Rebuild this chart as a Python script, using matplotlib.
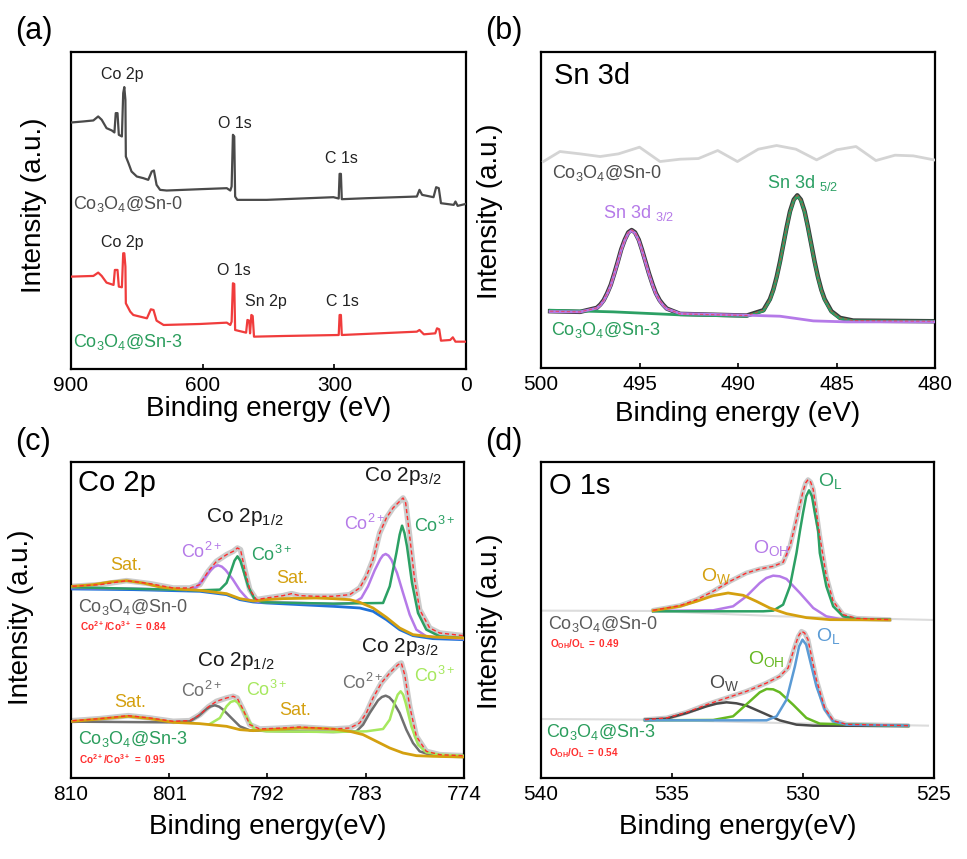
import matplotlib
matplotlib.use("Agg")
import matplotlib.pyplot as plt

plt.rcParams['font.family'] = ['Liberation Sans', 'DejaVu Sans']
plt.rcParams['mathtext.fontset'] = 'custom'
plt.rcParams['mathtext.rm'] = 'Liberation Sans'
plt.rcParams['mathtext.it'] = 'Liberation Sans:italic'
plt.rcParams['mathtext.bf'] = 'Liberation Sans:bold'

# ---------------- (a) survey spectra ----------------
a_sn0_e = [898.5, 872, 849, 838, 830, 819, 807, 801, 798, 794, 791, 784, 781, 778.5, 776, 775, 769, 762, 750,
           735, 724, 716, 711, 705, 697, 682, 606, 545, 537, 534, 531, 528, 526, 521, 454, 302, 290, 288, 285,
           283, 226, 112, 106, 100, 74, 68, 62, 57, 28, 24, 19, 0]
a_sn0_i = [739, 742, 745, 757, 747, 722, 715, 709, 767, 767, 702, 697, 827, 845, 807, 637, 617, 592, 577, 572,
           567, 592, 595, 552, 537, 535, 539, 542, 535, 547, 702, 697, 517, 507, 507, 515, 511, 585, 585, 509,
           512, 517, 537, 522, 515, 545, 542, 497, 492, 502, 489, 495]
a_sn3_e = [898.5, 849, 838, 830, 819, 803, 800, 794, 791, 784, 781, 778.5, 776, 775, 765, 758, 727, 718, 712,
           705, 689, 606, 545, 537, 534, 531, 528, 526, 501, 498, 494, 492, 489, 486, 483, 416, 290, 288, 285,
           283, 112, 106, 96, 70, 66, 61, 57, 36, 30, 24, 0]
a_sn3_i = [277, 279, 289, 279, 259, 252, 297, 297, 247, 245, 347, 347, 307, 197, 172, 162, 152, 179, 177, 145,
           132, 135, 139, 132, 142, 257, 255, 117, 109, 147, 145, 107, 162, 159, 97, 99, 102, 162, 162, 102,
           112, 117, 104, 107, 122, 119, 85, 87, 95, 82, 82]
a_ticks = [900, 600, 300, 0]

# ---------------- (b) Sn 3d ----------------
b_sn0_e = [499.88, 499.04, 498.02, 497.0, 496.07, 495.0, 493.96, 492.94, 492.01, 491.03, 490.03, 488.97,
           488.04, 487.06, 486.01, 485.0, 484.01, 483.0, 482.03, 481.1, 480.05]
b_sn0_i = [618, 648, 641, 633, 641, 661, 618, 625, 627, 651, 618, 655, 666, 655, 623, 653, 663, 621, 637, 635, 623]
b_d32_e = [499.54, 498.02, 497.17, 496.99, 496.82, 496.64, 496.46, 496.28, 496.11, 495.93, 495.75, 495.57,
           495.40, 495.23, 495.04, 494.88, 494.69, 494.52, 494.33, 494.17, 493.98, 493.81, 493.62, 492.94,
           489.56, 487.87, 487.02, 486.18, 484.48, 480.05]
b_d32_i = [169, 168, 179, 188, 201, 222, 247, 281, 315, 353, 382, 404, 411, 404, 382, 353, 315, 281, 247, 222,
           201, 188, 177, 163, 158, 155, 148, 141, 138, 138]
b_d52_e = [499.54, 496.33, 492.94, 489.56, 488.71, 488.38, 488.21, 488.04, 487.87, 487.70, 487.53, 487.36,
           487.17, 486.99, 486.81, 486.62, 486.45, 486.28, 486.11, 485.94, 485.77, 485.60, 485.26, 484.82,
           484.15, 480.05]
b_d52_i = [173, 168, 159, 155, 171, 204, 232, 270, 316, 368, 420, 467, 502, 515, 502, 467, 420, 368, 316, 270,
           232, 204, 168, 148, 141, 140]
b_env_e = [499.54, 498.02, 497.17, 496.99, 496.82, 496.64, 496.46, 496.28, 496.11, 495.93, 495.75, 495.57,
           495.40, 495.23, 495.04, 494.88, 494.69, 494.52, 494.33, 494.17, 493.98, 493.81, 493.62, 492.94,
           489.56, 488.71, 488.38, 488.21, 488.04, 487.87, 487.70, 487.53, 487.36, 487.17, 486.99, 486.81,
           486.62, 486.45, 486.28, 486.11, 485.94, 485.77, 485.60, 485.26, 484.82, 484.15, 480.05]
b_env_i = [170, 168, 180, 190, 203, 224, 249, 283, 317, 355, 384, 406, 413, 406, 384, 355, 317, 283, 249, 224,
           203, 190, 178, 162, 157, 173, 206, 234, 272, 318, 370, 422, 469, 504, 517, 504, 469, 422, 370, 318,
           272, 234, 206, 170, 150, 142, 140]
b_ticks = [500, 495, 490, 485, 480]

# ---------------- (c) Co 2p ----------------
c_ticks = [810, 801, 792, 783, 774]
# Co3O4@Sn-0
c0_bg_e = [809.85, 804.30, 798.19, 795.75, 794.53, 793.31, 792.09, 789.04, 785.99, 783.55, 782.33, 781.11,
           779.89, 778.67, 776.84, 774.09]
c0_bg_i = [567, 565, 560, 550, 535, 528, 525, 520, 515, 510, 500, 475, 445, 427, 418, 415]
c0_sat_e = [809.85, 807.96, 806.43, 804.91, 803.38, 801.85, 800.33, 798.19, 795.75, 794.53, 793.31, 792.09,
            790.57, 789.04, 787.52, 785.99, 784.46, 783.55, 782.33, 781.11, 779.89, 778.67, 776.84, 774.09]
c0_sat_i = [575, 580, 588, 592, 585, 573, 567, 563, 553, 538, 531, 535, 538, 539, 540, 538, 535, 527, 510, 482,
            450, 430, 423, 420]
c0_co2_e = [809.85, 804.30, 799.41, 798.50, 797.83, 797.19, 796.85, 796.52, 796.18, 795.84, 795.20, 794.53,
            793.77, 792.70, 789.04, 785.99, 784.16, 783.40, 782.79, 782.18, 781.66, 781.42, 781.17, 780.91,
            780.65, 780.13, 779.58, 778.97, 778.36, 777.45, 774.09]
c0_co2_i = [570, 568, 564, 572, 597, 624, 634, 638, 634, 624, 597, 563, 535, 528, 525, 522, 525, 540, 575, 623,
            657, 668, 672, 667, 655, 615, 555, 490, 445, 425, 417]
c0_co3_e = [809.85, 798.19, 796.36, 795.75, 795.30, 795.02, 794.75, 794.49, 794.23, 793.77, 793.16, 792.40,
            785.99, 781.41, 780.80, 780.19, 779.89, 779.67, 779.45, 779.22, 778.76, 778.21, 777.45, 776.23,
            774.09]
c0_co3_i = [572, 563, 565, 585, 625, 652, 665, 652, 625, 575, 535, 527, 523, 525, 575, 675, 730, 757, 735, 695,
            585, 495, 445, 425, 420]
c0_env_e = [809.85, 807.35, 804.91, 802.77, 800.63, 799.11, 798.19, 797.43, 796.67, 795.75, 795.14, 794.75,
            794.47, 794.07, 793.62, 793.01, 792.09, 790.57, 789.80, 789.04, 787.52, 785.99, 784.46, 783.55,
            782.94, 782.33, 781.72, 781.11, 780.50, 779.89, 779.58, 779.34, 778.97, 778.52, 778.06, 777.14,
            776.23, 774.09]
c0_env_i = [575, 580, 592, 583, 570, 570, 580, 620, 650, 670, 680, 690, 685, 625, 565, 535, 540, 547, 553, 547,
            545, 545, 550, 570, 605, 655, 735, 780, 810, 830, 840, 825, 725, 595, 505, 450, 435, 427]
# Co3O4@Sn-3
c3_sat_e = [809.85, 807.35, 804.75, 802.77, 800.63, 798.19, 795.75, 794.53, 793.31, 792.09, 790.57, 789.04,
            787.52, 785.99, 784.46, 783.24, 782.02, 780.80, 779.58, 778.36, 776.84, 774.09]
c3_sat_i = [170, 177, 185, 178, 167, 163, 155, 145, 142, 145, 147, 150, 149, 147, 140, 130, 110, 90, 75, 67, 65, 63]
c3_co2_e = [809.85, 801.24, 799.11, 798.35, 797.58, 797.20, 796.82, 796.44, 796.06, 795.30, 794.53, 793.62,
            792.09, 785.99, 783.85, 783.24, 782.63, 781.87, 781.52, 781.17, 780.84, 780.50, 779.89, 779.28,
            778.67, 778.06, 777.14, 774.09]
c3_co2_i = [169, 167, 170, 185, 207, 215, 218, 214, 205, 180, 155, 143, 141, 138, 140, 160, 195, 233, 243, 247,
            242, 230, 195, 145, 105, 80, 70, 65]
c3_co3_e = [797.28, 796.36, 795.75, 795.37, 794.99, 794.68, 794.38, 793.77, 793.16, 792.09, 785.99, 782.94,
            781.41, 780.80, 780.35, 780.07, 779.80, 779.57, 779.34, 778.82, 778.21, 777.45, 776.23, 774.09]
c3_co3_i = [162, 180, 215, 228, 232, 225, 210, 175, 145, 140, 138, 140, 147, 175, 225, 250, 260, 250, 225, 155,
            100, 77, 70, 67]
c3_env_e = [809.85, 807.35, 804.75, 802.77, 800.63, 799.11, 798.19, 797.43, 796.67, 795.75, 795.14, 794.78,
            794.23, 793.62, 792.70, 790.57, 789.04, 787.52, 785.99, 784.46, 783.55, 782.94, 782.33, 781.57,
            780.80, 780.04, 779.74, 779.43, 778.97, 778.36, 777.45, 776.23, 774.09]
c3_env_i = [172, 178, 187, 180, 170, 172, 190, 213, 230, 240, 245, 240, 205, 160, 147, 150, 153, 150, 147, 150,
            165, 195, 240, 285, 315, 340, 345, 310, 215, 125, 80, 70, 67]

# ---------------- (d) O 1s ----------------
d_ticks = [540, 535, 530, 525]
d0_base_e = [540.0, 535.72, 530.89, 525.0]
d0_base_i = [502, 501, 485, 474]
d0_ow_e = [535.72, 534.70, 534.06, 533.43, 532.86, 532.28, 531.78, 531.27, 530.63, 529.87, 528.98, 526.69]
d0_ow_i = [502, 515, 530, 547, 555, 548, 530, 510, 493, 481, 475, 474]
d0_ooh_e = [535.72, 533.43, 532.67, 532.16, 531.65, 531.40, 531.14, 530.89, 530.63, 530.12, 529.61, 529.11,
            528.60, 526.69]
d0_ooh_i = [501, 503, 515, 545, 585, 600, 607, 605, 597, 555, 510, 485, 477, 475]
d0_ol_e = [535.72, 531.52, 531.14, 530.76, 530.50, 530.25, 530.12, 530.00, 529.88, 529.77, 529.66, 529.55,
           529.42, 529.36, 529.11, 528.85, 528.47, 527.96, 526.69]
d0_ol_i = [500, 500, 502, 520, 575, 675, 740, 795, 845, 863, 845, 795, 740, 675, 575, 515, 485, 477, 475]
d0_env_e = [535.72, 534.70, 534.06, 533.43, 532.79, 532.16, 531.65, 531.14, 530.76, 530.50, 530.25, 530.00,
            529.90, 529.81, 529.71, 529.61, 529.36, 529.11, 528.85, 528.47, 527.96, 526.69]
d0_env_i = [503, 517, 535, 560, 590, 615, 627, 635, 647, 695, 775, 860, 885, 895, 888, 865, 725, 605, 530, 490,
            479, 475]
d3_base_e = [540.0, 535.97, 530.89, 525.23]
d3_base_i = [177, 175, 165, 157]
d3_ow_e = [536.03, 535.21, 534.44, 533.68, 533.30, 532.92, 532.54, 532.16, 531.52, 530.89, 530.25, 529.61,
           525.99]
d3_ow_i = [175, 178, 195, 215, 223, 227, 224, 217, 195, 173, 160, 157, 156]
d3_ooh_e = [536.03, 533.43, 532.67, 532.03, 531.65, 531.39, 531.14, 530.89, 530.38, 529.87, 529.36, 525.99]
d3_ooh_i = [173, 174, 185, 230, 257, 267, 266, 257, 220, 180, 163, 156]
d3_ol_e = [536.03, 531.39, 531.01, 530.63, 530.31, 530.15, 530.02, 529.88, 529.74, 529.49, 529.17, 528.85,
           528.34, 525.99]
d3_ol_i = [173, 173, 185, 235, 335, 395, 415, 400, 355, 275, 205, 170, 160, 157]
d3_env_e = [536.03, 535.21, 534.44, 533.68, 532.92, 532.16, 531.39, 530.89, 530.57, 530.31, 530.18, 530.06,
            529.94, 529.81, 529.49, 529.17, 528.85, 528.34, 525.99]
d3_env_i = [175, 180, 197, 220, 240, 260, 285, 305, 330, 395, 425, 440, 435, 415, 295, 210, 172, 161, 157]

SAMPLE0 = r'Co$_3$O$_4$@Sn-0'
SAMPLE3 = r'Co$_3$O$_4$@Sn-3'

GRAY_T = '#4d4d4d'
GREEN_T = '#2a9d5c'
PURPLE = '#b57ae8'
GREEN = '#2ca064'
GOLD = '#d4a00f'
BLUE = '#2072d8'
LGREEN = '#a6e85e'
DGRAY = '#707070'
RED = '#ff2d2d'
ENV = '#cbcbcb'

fig = plt.figure(figsize=(9.67, 8.59), dpi=100)

axA = fig.add_axes([0.0734, 0.5704, 0.4085, 0.3690])
axB = fig.add_axes([0.5595, 0.5716, 0.4074, 0.3679])
axC = fig.add_axes([0.0734, 0.0943, 0.4064, 0.3679])
axD = fig.add_axes([0.5595, 0.0943, 0.4064, 0.3679])


def style(ax, xlim, ticks, ylim, xlabel, labelpad):
    ax.set_xlim(*xlim)
    ax.set_ylim(*ylim)
    ax.set_xticks(ticks)
    ax.set_yticks([])
    ax.tick_params(axis='x', direction='in', length=3.5, width=1.2, labelsize=15, pad=5)
    for s in ax.spines.values():
        s.set_linewidth(1.6)
    ax.set_xlabel(xlabel, fontsize=20, labelpad=labelpad)
    ax.set_ylabel('Intensity (a.u.)', fontsize=20)


def envelope(ax, e, i, lw=4):
    ax.plot(e, i, color=ENV, lw=lw, solid_capstyle='round', solid_joinstyle='round', zorder=2)


def dashed(ax, e, i):
    ax.plot(e, i, color=RED, lw=1.0, ls=(0, (3, 2)), zorder=6)


def line(ax, e, i, color, lw=1.8, z=3):
    ax.plot(e, i, color=color, lw=lw, solid_joinstyle='round', zorder=z)


# ---- (a)
style(axA, (900, 0), a_ticks, (0, 950), 'Binding energy (eV)', 1)
axA.yaxis.set_label_coords(-0.061, 0.517)
line(axA, a_sn0_e, a_sn0_i, '#4a4a4a', 1.6)
line(axA, a_sn3_e, a_sn3_i, '#f03c3c', 1.6)
fa = 11.5
axA.text(784, 882, 'Co 2p', fontsize=fa, ha='center', va='center', color='#222222')
axA.text(526, 735, 'O 1s', fontsize=fa, ha='center', va='center', color='#222222')
axA.text(283, 632, 'C 1s', fontsize=fa, ha='center', va='center', color='#222222')
axA.text(784, 379, 'Co 2p', fontsize=fa, ha='center', va='center', color='#222222')
axA.text(528, 294, 'O 1s', fontsize=fa, ha='center', va='center', color='#222222')
axA.text(456, 202, 'Sn 2p', fontsize=fa, ha='center', va='center', color='#222222')
axA.text(281, 202, 'C 1s', fontsize=fa, ha='center', va='center', color='#222222')
axA.text(0.006, 494 / 950, SAMPLE0, transform=axA.transAxes, fontsize=13, va='center', color=GRAY_T)
axA.text(0.004, 82 / 950, SAMPLE3, transform=axA.transAxes, fontsize=13, va='center', color=GREEN_T)

# ---- (b)
style(axB, (500, 480), b_ticks, (0, 946), 'Binding energy (eV)', 5)
axB.yaxis.set_label_coords(-0.096, 0.497)
line(axB, b_sn0_e, b_sn0_i, '#d4d4d4', 2.0)
line(axB, b_env_e, b_env_i, '#3a3a3a', 3.2, 2)
line(axB, b_d52_e, b_d52_i, GREEN, 2.0, 3)
line(axB, b_d32_e, b_d32_i, PURPLE, 2.0, 4)
axB.plot(b_env_e, b_env_i, color=RED, lw=0.8, ls=(0, (3, 2)), alpha=0.6, zorder=5)
axB.text(0.033, 0.925, 'Sn 3d', transform=axB.transAxes, fontsize=21, va='center')
axB.text(0.027, 583 / 946, SAMPLE0, transform=axB.transAxes, fontsize=13, va='center', color=GRAY_T)
axB.text(0.025, 113 / 946, SAMPLE3, transform=axB.transAxes, fontsize=13, va='center', color=GREEN_T)
axB.text(496.84, 463, r'Sn 3d $_{3/2}$', fontsize=13, va='center', color=PURPLE)
axB.text(488.55, 553, r'Sn 3d $_{5/2}$', fontsize=13, va='center', color=GREEN)

# ---- (c)
style(axC, (810, 774), c_ticks, (0, 948), 'Binding energy(eV)', 7)
axC.yaxis.set_label_coords(-0.094, 0.51)
envelope(axC, c0_env_e, c0_env_i)
envelope(axC, c3_env_e, c3_env_i)
line(axC, c0_bg_e, c0_bg_i, BLUE, 2.0)
line(axC, c0_co2_e, c0_co2_i, PURPLE)
line(axC, c0_co3_e, c0_co3_i, GREEN)
line(axC, c0_sat_e, c0_sat_i, GOLD, 2.0, 4)
dashed(axC, c0_env_e, c0_env_i)
line(axC, c3_co2_e, c3_co2_i, DGRAY)
line(axC, c3_co3_e, c3_co3_i, LGREEN)
line(axC, c3_sat_e, c3_sat_i, GOLD, 2.0, 4)
dashed(axC, c3_env_e, c3_env_i)
axC.text(0.019, 0.934, 'Co 2p', transform=axC.transAxes, fontsize=21, va='center')
fc = 15
axC.text(783.2, 905, r'Co 2p$_{3/2}$', fontsize=fc, va='center', color='#1a1a1a')
axC.text(797.6, 783, r'Co 2p$_{1/2}$', fontsize=fc, va='center', color='#1a1a1a')
axC.text(799.9, 678, r'Co$^{2+}$', fontsize=13, va='center', color=PURPLE)
axC.text(793.5, 668, r'Co$^{3+}$', fontsize=13, va='center', color=GREEN)
axC.text(806.4, 638, 'Sat.', fontsize=13, va='center', color=GOLD)
axC.text(791.2, 597, 'Sat.', fontsize=13, va='center', color=GOLD)
axC.text(785.0, 762, r'Co$^{2+}$', fontsize=13, va='center', color=PURPLE)
axC.text(778.6, 755, r'Co$^{3+}$', fontsize=13, va='center', color=GREEN)
axC.text(0.017, 513 / 948, SAMPLE0, transform=axC.transAxes, fontsize=13, va='center', color='#5a5a5a')
axC.text(0.023, 455 / 948, r'$\mathbf{Co^{2+}/Co^{3+}\ =\ 0.84}$', transform=axC.transAxes,
         fontsize=7.2, va='center', color=RED)
axC.text(783.4, 392, r'Co 2p$_{3/2}$', fontsize=fc, va='center', color='#1a1a1a')
axC.text(798.5, 350, r'Co 2p$_{1/2}$', fontsize=fc, va='center', color='#1a1a1a')
axC.text(799.9, 260, r'Co$^{2+}$', fontsize=13, va='center', color=DGRAY)
axC.text(794.0, 265, r'Co$^{3+}$', fontsize=13, va='center', color=LGREEN)
axC.text(806.0, 225, 'Sat.', fontsize=13, va='center', color=GOLD)
axC.text(790.9, 203, 'Sat.', fontsize=13, va='center', color=GOLD)
axC.text(785.2, 285, r'Co$^{2+}$', fontsize=13, va='center', color=DGRAY)
axC.text(778.6, 305, r'Co$^{3+}$', fontsize=13, va='center', color=LGREEN)
axC.text(0.017, 118 / 948, SAMPLE3, transform=axC.transAxes, fontsize=13, va='center', color=GREEN_T)
axC.text(0.020, 58 / 948, r'$\mathbf{Co^{2+}/Co^{3+}\ =\ 0.95}$', transform=axC.transAxes,
         fontsize=7.2, va='center', color=RED)

# ---- (d)
style(axD, (540, 525), d_ticks, (0, 948), 'Binding energy(eV)', 7)
axD.yaxis.set_label_coords(-0.097, 0.497)
line(axD, d0_base_e, d0_base_i, '#dcdcdc', 1.5, 1)
line(axD, d3_base_e, d3_base_i, '#dcdcdc', 1.5, 1)
envelope(axD, d0_env_e, d0_env_i, lw=3.5)
envelope(axD, d3_env_e, d3_env_i, lw=3.5)
line(axD, d0_ooh_e, d0_ooh_i, PURPLE)
line(axD, d0_ol_e, d0_ol_i, GREEN)
line(axD, d0_ow_e, d0_ow_i, GOLD, 2.0, 4)
dashed(axD, d0_env_e, d0_env_i)
line(axD, d3_ow_e, d3_ow_i, '#4a4a4a')
line(axD, d3_ooh_e, d3_ooh_i, '#66b822')
line(axD, d3_ol_e, d3_ol_i, '#5b9bd5', 1.8, 4)
dashed(axD, d3_env_e, d3_env_i)
axD.text(0.019, 0.923, 'O 1s', transform=axD.transAxes, fontsize=21, va='center')
axD.text(529.42, 890, r'O$_\mathregular{L}$', fontsize=14, va='center', color=GREEN)
axD.text(531.9, 690, r'O$_\mathregular{OH}$', fontsize=14, va='center', color=PURPLE)
axD.text(533.9, 607, r'O$_\mathregular{W}$', fontsize=14, va='center', color=GOLD)
axD.text(0.017, 463 / 948, SAMPLE0, transform=axD.transAxes, fontsize=13, va='center', color='#5a5a5a')
axD.text(0.023, 403 / 948, r'$\mathbf{O_{OH}/O_{L}\ =\ 0.49}$', transform=axD.transAxes,
         fontsize=7.2, va='center', color=RED)
axD.text(529.5, 425, r'O$_\mathregular{L}$', fontsize=14, va='center', color='#5b9bd5')
axD.text(532.1, 357, r'O$_\mathregular{OH}$', fontsize=14, va='center', color='#66b822')
axD.text(533.6, 285, r'O$_\mathregular{W}$', fontsize=14, va='center', color='#4a4a4a')
axD.text(0.013, 137 / 948, SAMPLE3, transform=axD.transAxes, fontsize=13, va='center', color=GREEN_T)
axD.text(0.019, 75 / 948, r'$\mathbf{O_{OH}/O_{L}\ =\ 0.54}$', transform=axD.transAxes,
         fontsize=7.2, va='center', color=RED)

# panel labels
fig.text(0.0155, 0.964, '(a)', fontsize=22, va='center')
fig.text(0.5016, 0.964, '(b)', fontsize=22, va='center')
fig.text(0.0155, 0.4855, '(c)', fontsize=22, va='center')
fig.text(0.5016, 0.4855, '(d)', fontsize=22, va='center')

fig.savefig('out.png', dpi=100)
